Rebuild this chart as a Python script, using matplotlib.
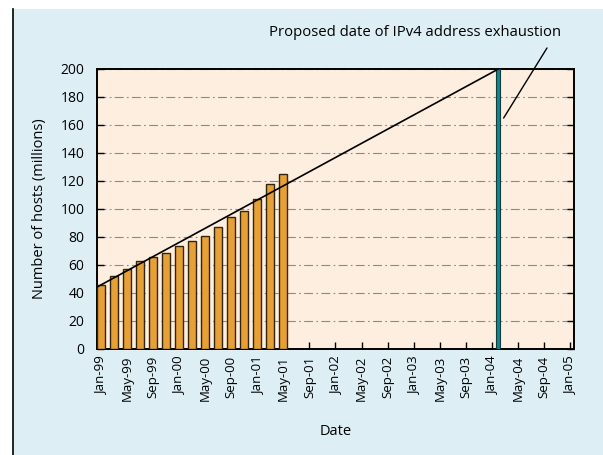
import matplotlib
matplotlib.use("Agg")
import matplotlib.pyplot as plt
from matplotlib.patches import Rectangle
from matplotlib.lines import Line2D

plt.rcParams['font.family'] = ['Open Sans', 'DejaVu Sans']

# Data
bar_months = [0, 2, 4, 6, 8, 10, 12, 14, 16, 18, 20, 22, 24, 26, 28]  # months since Jan-99
hosts = [45.7, 52.1, 56.9, 62.9, 65.7, 68.8, 73.3, 76.9, 81.0, 87.1, 94.0, 98.6, 106.9, 117.9, 124.8]
exhaust_month = [61]
exhaust_value = [200]
trend_months = [-0.5, 61]
trend_values = [44.5, 200]
tick_months = list(range(0, 73, 4))
tick_labels = ['Jan-99', 'May-99', 'Sep-99', 'Jan-00', 'May-00', 'Sep-00', 'Jan-01', 'May-01',
               'Sep-01', 'Jan-02', 'May-02', 'Sep-02', 'Jan-03', 'May-03', 'Sep-03', 'Jan-04',
               'May-04', 'Sep-04', 'Jan-05']
y_ticks = list(range(0, 201, 20))

W, H = 603, 455
fig = plt.figure(figsize=(W / 100, H / 100), dpi=100, facecolor='white')

# light blue panel
fig.patches.append(Rectangle((13 / W, 0), 1 - 13 / W, (H - 9) / H, transform=fig.transFigure,
                             facecolor='#ddeef5', edgecolor='none', zorder=-2))
fig.lines.append(Line2D([12.5 / W, 12.5 / W], [0, (H - 9) / H], transform=fig.transFigure,
                        color='black', lw=1.2))

ax = fig.add_axes([97 / W, (H - 349) / H, (574 - 97) / W, (349 - 69) / H])
ax.set_facecolor('#fdeedf')

ax.bar(bar_months, hosts, width=1.25, color='#e6a035', edgecolor='#33240e', linewidth=1.0, zorder=3)
ax.bar(exhaust_month, exhaust_value, width=0.6, color='#17858a', edgecolor='#0d3d40', linewidth=0.8, zorder=3)
ax.plot(trend_months, trend_values, color='black', lw=1.2, zorder=4)

ax.set_xlim(-0.6, 72.6)
ax.set_ylim(0, 200)
ax.set_yticks(y_ticks)
ax.set_xticks(tick_months)
ax.set_xticklabels(tick_labels, rotation=90, fontsize=9.5)
ax.tick_params(axis='y', labelsize=10, direction='in', length=5, right=True, width=1, pad=9)
ax.tick_params(axis='x', direction='in', length=5, width=1, pad=5)
ax.grid(axis='y', color='#8a8a8a', linestyle=(0, (8, 3, 1.5, 3)), lw=0.8, zorder=1)
for s in ax.spines.values():
    s.set_linewidth(1.4)

ax.set_ylabel('Number of hosts (millions)', fontsize=10.5, labelpad=10)
ax.set_xlabel('Date', fontsize=10.5, labelpad=16)

# annotation
fig.text(415 / W, (H - 32) / H, 'Proposed date of IPv4 address exhaustion',
         ha='center', va='center', fontsize=10.7)
ax.annotate('', xy=(61.8, 165), xycoords='data',
            xytext=(547 / W, (H - 48) / H), textcoords='figure fraction',
            arrowprops=dict(arrowstyle='-', color='black', lw=1.0, shrinkA=0, shrinkB=0))

fig.savefig('out.png', dpi=100, facecolor='white')
